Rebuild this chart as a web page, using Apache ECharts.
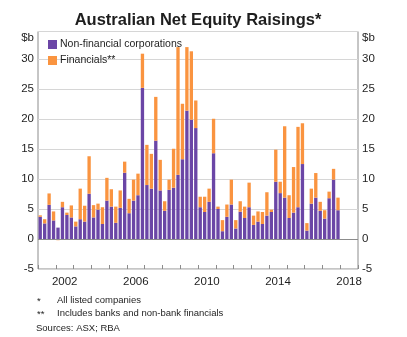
<!DOCTYPE html>
<html>
<head>
<meta charset="utf-8">
<script src="https://cdn.jsdelivr.net/npm/echarts@6/dist/echarts.min.js"></script>
<style>
html,body{margin:0;padding:0;background:#fff;}
#chart{width:407px;height:337px;}
</style>
</head>
<body>
<div id="chart"></div>
<script>
// Quarterly categories 2001Q1 .. 2018Q4 (last year has no data)
var quarters = [];
for (var y = 2001; y <= 2018; y++) { for (var q = 1; q <= 4; q++) { quarters.push(y + 'Q' + q); } }
var years = ['2001','2002','2003','2004','2005','2006','2007','2008','2009','2010','2011','2012','2013','2014','2015','2016','2017','2018'];
var yearLabels = ['2002','2006','2010','2014','2018'];

// $b, 2001Q1 .. 2017Q4
var nonFinancial = [
  3.7, 2.6, 5.7, 3.1, 1.9, 5.3, 4.0, 3.6,
  2.1, 3.3, 2.9, 7.55, 3.6, 4.9, 2.5, 6.4,
  5.4, 2.7, 5.2, 11.05, 4.3, 6.4, 7.3, 25.2,
  9.0, 8.4, 16.4, 8.1, 4.7, 8.2, 8.55, 10.7,
  13.3, 21.4, 19.9, 18.5, 5.3, 4.5, 6.2, 14.3,
  5.0, 1.3, 3.7, 5.75, 1.75, 4.55, 3.5, 5.3,
  2.35, 2.9, 2.5, 3.9, 4.5, 9.55, 7.65, 6.9,
  3.5, 4.4, 5.3, 12.5, 1.4, 5.9, 6.9, 4.7,
  3.4, 6.8, 9.9, 4.8
];
var financials = [
  0.25, 0.7, 1.9, 1.5, -0.2, 0.9, 0.4, 2.0,
  0.8, 5.1, 2.65, 6.25, 2.05, 1.0, 2.8, 3.8,
  2.9, 2.7, 2.9, 1.85, 2.4, 3.5, 3.6, 5.7,
  6.7, 5.8, 7.3, 5.1, 1.6, 1.7, 6.5, 21.3,
  9.25, 10.6, 11.4, 4.6, 1.75, 2.55, 2.2, 5.75,
  0.4, 1.85, 2.05, 4.15, 1.4, 1.75, 1.9, 4.1,
  1.55, 1.7, 2.0, 3.9, 0.4, 5.35, 1.9, 11.9,
  3.8, 7.6, 13.4, 6.8, 1.25, 2.5, 4.1, 1.5,
  1.4, 1.1, 1.8, 2.1
];

var PURPLE = '#6b46a6';
var ORANGE = '#fa9440';
var FONT = 'Arial, "Liberation Sans", sans-serif';
var TXT = '#1e1e1e';

var chart = echarts.init(document.getElementById('chart'), null, {renderer: 'canvas'});
chart.setOption({
  animation: false,
  backgroundColor: '#fff',
  textStyle: {fontFamily: FONT},
  grid: {left: 38, right: 49, top: 31.5, bottom: 68, show: true, borderColor: '#8c8c8c', borderWidth: 1, containLabel: false},
  legend: {
    orient: 'vertical', left: 43, top: 34, itemWidth: 9, itemHeight: 9, itemGap: 5,
    icon: 'rect', textStyle: {fontSize: 10.5, color: TXT, fontFamily: FONT, padding: [0,0,0,-2]},
    data: ['Non-financial corporations', 'Financials**']
  },
  xAxis: [
    {type: 'category', data: quarters, show: false, boundaryGap: true},
    {type: 'category', data: years, position: 'bottom', boundaryGap: true,
     axisLine: {show: false, onZero: false},
     axisTick: {show: true, inside: true, length: 4, interval: 0, lineStyle: {color: '#8c8c8c'}},
     axisLabel: {interval: function (i, v) { return yearLabels.indexOf(v) >= 0; }, fontSize: 11.5, color: TXT, margin: 7, fontFamily: FONT},
     splitLine: {show: false}}
  ],
  yAxis: [
    {type: 'value', min: -5, max: 34.6, interval: 5, position: 'left',
     axisLine: {show: false}, axisTick: {show: false},
     axisLabel: {fontSize: 11.5, color: TXT, margin: 4, showMaxLabel: false, fontFamily: FONT},
     splitLine: {show: true, lineStyle: {color: '#d6d6d6', width: 1}}},
    {type: 'value', min: -5, max: 34.6, interval: 5, position: 'right',
     axisLine: {show: false}, axisTick: {show: false},
     axisLabel: {fontSize: 11.5, color: TXT, margin: 4, showMaxLabel: false, fontFamily: FONT},
     splitLine: {show: false}}
  ],
  series: [
    {name: 'Non-financial corporations', type: 'bar', stack: 'total', xAxisIndex: 0, yAxisIndex: 0,
     data: nonFinancial, itemStyle: {color: PURPLE}, barCategoryGap: '25%',
     markLine: {silent: true, symbol: 'none', label: {show: false},
       lineStyle: {color: '#8c8c8c', type: 'solid', width: 1}, data: [{yAxis: 0}]}},
    {name: 'Financials**', type: 'bar', stack: 'total', xAxisIndex: 0, yAxisIndex: 0,
     data: financials, itemStyle: {color: ORANGE}, barCategoryGap: '25%'}
  ],
  graphic: [
    {type: 'text', left: null, x: 198, y: 20, style: {text: 'Australian Net Equity Raisings*', font: 'bold 16.5px ' + FONT, fill: TXT, textAlign: 'center', textVerticalAlign: 'middle'}},
    {type: 'text', x: 34, y: 38, style: {text: '$b', font: '11.5px ' + FONT, fill: TXT, textAlign: 'right', textVerticalAlign: 'middle'}},
    {type: 'text', x: 362, y: 38, style: {text: '$b', font: '11.5px ' + FONT, fill: TXT, textAlign: 'left', textVerticalAlign: 'middle'}},
    {type: 'text', x: 37, y: 301, style: {text: '*', font: '9.5px ' + FONT, fill: TXT, textAlign: 'left', textVerticalAlign: 'middle'}},
    {type: 'text', x: 57, y: 300, style: {text: 'All listed companies', font: '9.5px ' + FONT, fill: TXT, textAlign: 'left', textVerticalAlign: 'middle'}},
    {type: 'text', x: 37, y: 314.5, style: {text: '**', font: '9.5px ' + FONT, fill: TXT, textAlign: 'left', textVerticalAlign: 'middle'}},
    {type: 'text', x: 57, y: 313.5, style: {text: 'Includes banks and non-bank financials', font: '9.5px ' + FONT, fill: TXT, textAlign: 'left', textVerticalAlign: 'middle'}},
    {type: 'text', x: 36, y: 328, style: {text: 'Sources: ASX; RBA', font: '9.5px ' + FONT, fill: TXT, textAlign: 'left', textVerticalAlign: 'middle'}}
  ]
});
</script>
</body>
</html>
